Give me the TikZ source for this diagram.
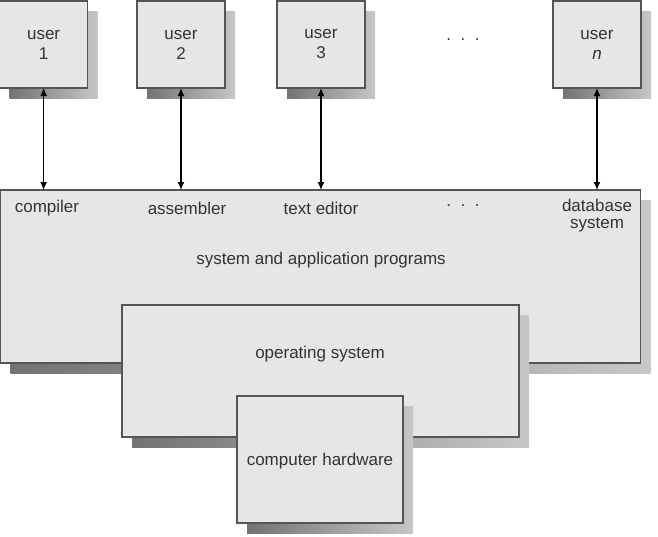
\documentclass[tikz,border=0pt]{standalone}
\usepackage{fontspec}
\setmainfont{Liberation Sans}
\usetikzlibrary{arrows.meta,shadows}

\definecolor{boxfill}{HTML}{E6E6E6}
\definecolor{boxline}{HTML}{555555}
\definecolor{labeltext}{HTML}{333333}

\begin{document}
\begin{tikzpicture}[
    x=1pt, y=-1pt,
    layer/.style={draw=boxline, fill=boxfill, line width=1.1pt, rectangle,
                  inner sep=0pt, outer sep=0pt,
                  general shadow={shadow xshift=10pt, shadow yshift=-10pt,
                                  left color=black!55, right color=black!22, draw=none}},
    userbox/.style={layer, minimum width=88pt, minimum height=87pt,
                    text=labeltext, align=center, font=\fontsize{17}{20}\selectfont},
    lbl/.style={text=labeltext, align=center, inner sep=0pt, font=\fontsize{17}{17}\selectfont},
    link/.style={{Latex[length=8pt,width=7pt]}-{Latex[length=8pt,width=7pt]}, line width=1.3pt, black}
]
    \useasboundingbox (0,0) rectangle (658,536);

    % layers, back to front
    \node[layer, minimum width=640pt, minimum height=173pt] (apps) at (320.5,276.5) {};
    \node[layer, minimum width=397pt, minimum height=132pt] (os) at (320.5,371) {};
    \node[layer, minimum width=166pt, minimum height=127pt] (hw) at (320,459.5) {};

    \node[lbl] (progs) at (321,260) {system and application programs};
    \node[lbl] (oslbl) at (320,354) {operating system};
    \node[lbl] (hwlbl) at (320,461) {computer hardware};

    \node[lbl] (compiler) at (47,208) {compiler};
    \node[lbl] (assembler) at (187,208) {assembler};
    \node[lbl] (editor) at (321,208) {text editor};
    \node[lbl] (pdots) at (463,206) {.\ \ .\ \ .};
    \node[lbl] (dbsys) at (597,216) {database\\system};

    % users
    \node[userbox] (u1) at (43.6,44.5) {user\\1};
    \node[userbox] (u2) at (181,44.5) {user\\2};
    \node[userbox] (u3) at (321,44.5) {user\\3};
    \node[lbl] (udots) at (463,40) {.\ \ .\ \ .};
    \node[userbox] (un) at (597,44.5) {user\\\textit{n}};

    \draw[link] (u1.south) -- (u1.south |- apps.north);
    \draw[link] (u2.south) -- (u2.south |- apps.north);
    \draw[link] (u3.south) -- (u3.south |- apps.north);
    \draw[link] (un.south) -- (un.south |- apps.north);
\end{tikzpicture}
\end{document}
